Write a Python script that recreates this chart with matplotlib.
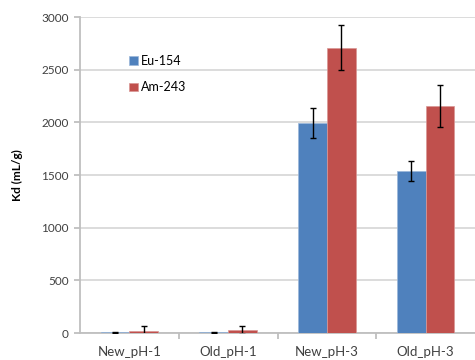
import numpy as np
import matplotlib.pyplot as plt

plt.rcParams['font.family'] = ['Lato', 'DejaVu Sans']

# Données
samples = ["New_pH-1", "Old_pH-1", "New_pH-3", "Old_pH-3"]
eu_154 = [5, 5, 1990, 1540]
eu_154_err = [8, 5, 142, 95]
am_243 = [15, 25, 2710, 2155]
am_243_err = [55, 38, 213, 200]

x = np.arange(len(samples))
w = 0.29

fig = plt.figure(figsize=(4.75, 3.6), dpi=100)
ax = fig.add_axes([80 / 475, 27 / 360, 395 / 475, 316 / 360])

err_kw = dict(ecolor="black", elinewidth=1.0, capsize=2.5, capthick=1.0)
ax.bar(x - w / 2, eu_154, w, yerr=eu_154_err, color="#4F81BD",
       edgecolor="#9BB7DA", linewidth=0.5, label="Eu-154", error_kw=err_kw, zorder=3)
ax.bar(x + w / 2, am_243, w, yerr=am_243_err, color="#C0504D",
       edgecolor="#D99694", linewidth=0.5, label="Am-243", error_kw=err_kw, zorder=3)

ax.set_xlim(-0.5, 3.5)
ax.set_ylim(0, 3000)
ax.set_yticks(np.arange(0, 3001, 500))
ax.yaxis.grid(True, color="#D9D9D9", linewidth=1.3, zorder=0)
ax.set_axisbelow(True)

ax.set_xticks(x)
ax.set_xticklabels(samples)
ax.set_xticks(np.arange(0.5, 3.0, 1.0), minor=True)
ax.tick_params(axis="x", which="major", length=0, pad=9, labelsize=9.5, colors="#404040")
ax.tick_params(axis="x", which="minor", length=4, color="#BFBFBF", width=1.3)
ax.tick_params(axis="y", length=4, color="#BFBFBF", width=1.3, pad=4, labelsize=8.5,
               labelcolor="#404040")

for s in ["top", "right"]:
    ax.spines[s].set_visible(False)
ax.spines["left"].set_color("#BFBFBF")
ax.spines["left"].set_linewidth(1.3)
ax.spines["bottom"].set_color("#BFBFBF")
ax.spines["bottom"].set_linewidth(1.3)

ax.set_ylabel("Kd (mL/g)", fontsize=8.5, fontweight="bold", labelpad=13)

ax.legend(loc="upper left", bbox_to_anchor=(0.095, 0.915), frameon=False, fontsize=9,
          handlelength=0.7, handleheight=0.7, handletextpad=0.3, labelspacing=1.15)

plt.savefig("out.png", dpi=100)
